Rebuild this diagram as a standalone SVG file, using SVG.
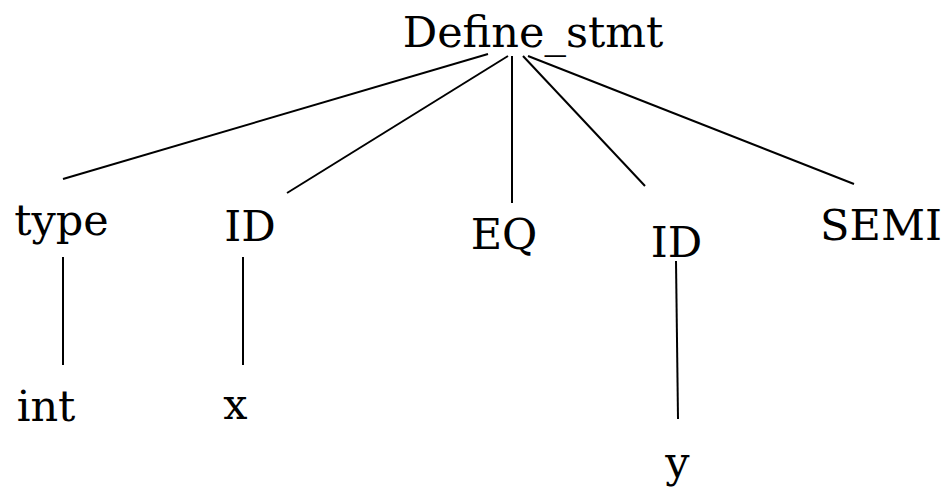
<svg xmlns="http://www.w3.org/2000/svg" width="950" height="490" viewBox="0 0 950 490">
  <style>
    .lbl { font-family: "DejaVu Serif", "Liberation Serif", serif; font-size: 43px; fill: #000; text-anchor: middle; }
    .edge { stroke: #000; stroke-width: 2; fill: none; }
  </style>
  <rect width="950" height="490" fill="#fff"/>
  <g id="edges">
    <line class="edge" x1="488" y1="54" x2="63" y2="179"/>
    <line class="edge" x1="508" y1="56" x2="287" y2="193"/>
    <line class="edge" x1="512" y1="56" x2="512" y2="203"/>
    <line class="edge" x1="523" y1="56" x2="645" y2="186"/>
    <line class="edge" x1="528" y1="56" x2="854" y2="184"/>
    <line class="edge" x1="63" y1="257" x2="63" y2="365"/>
    <line class="edge" x1="243" y1="257" x2="243" y2="365"/>
    <line class="edge" x1="676" y1="261" x2="678" y2="419"/>
  </g>
  <g id="define_stmt"><text class="lbl" x="533" y="47">Define_stmt</text></g>
  <g id="type"><text class="lbl" x="61.5" y="235">type</text></g>
  <g id="id1"><text class="lbl" x="250" y="241">ID</text></g>
  <g id="eq"><text class="lbl" x="504" y="249">EQ</text></g>
  <g id="id2"><text class="lbl" x="676.5" y="257">ID</text></g>
  <g id="semi"><text class="lbl" x="881" y="240">SEMI</text></g>
  <g id="int"><text class="lbl" x="46" y="421">int</text></g>
  <g id="x"><text class="lbl" x="235.5" y="419">x</text></g>
  <g id="y"><text class="lbl" x="677.5" y="477">y</text></g>
</svg>
